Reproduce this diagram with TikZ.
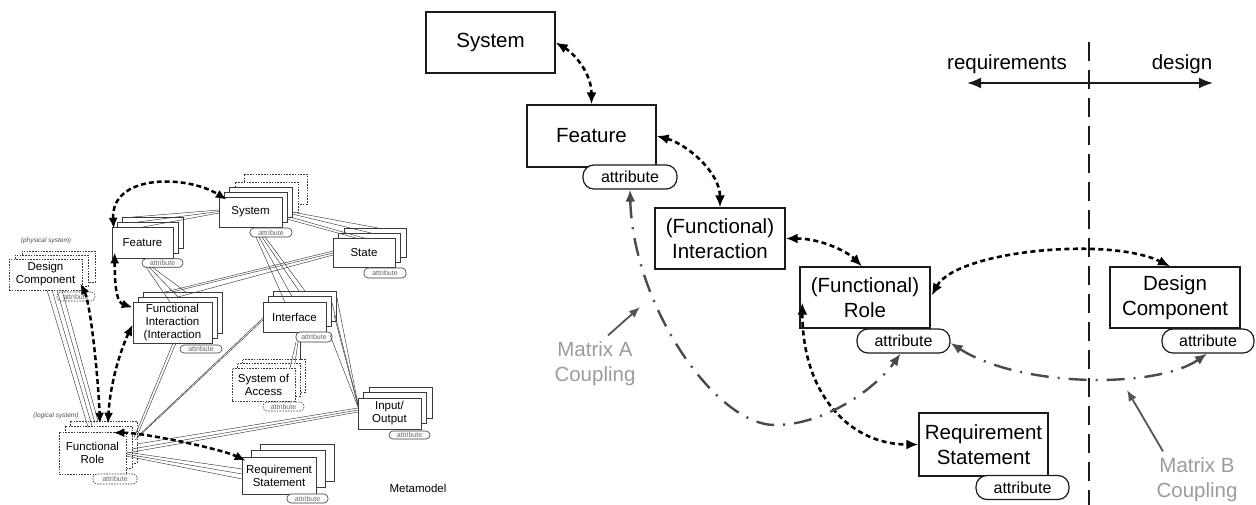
\documentclass[tikz,border=0pt]{standalone}
\usepackage{fontspec}
\setmainfont{Liberation Sans}
\usetikzlibrary{arrows.meta,calc}

\definecolor{ink}{HTML}{1A1A1A}
\definecolor{coup}{HTML}{4A4A4A}
\definecolor{lbl}{HTML}{9C9C9C}
\definecolor{lblarrow}{HTML}{555555}
\definecolor{thinln}{HTML}{3A3A3A}

\tikzset{
  % concept view
  bigbox/.style={draw=ink, fill=white, line width=1.3pt, inner sep=0pt, align=center,
    minimum width=129pt, minimum height=61pt, font=\fontsize{20.5}{25}\selectfont},
  bigattr/.style={draw=ink, fill=white, line width=1.2pt, rounded corners=11pt, inner sep=0pt,
    minimum width=93pt, minimum height=24pt, font=\fontsize{16}{18}\selectfont},
  heavydots/.style={draw=black, line width=2.6pt, dash pattern=on 5pt off 3.5pt,
    {Latex[length=12pt,width=10pt]}-{Latex[length=12pt,width=10pt]}},
  coupling/.style={draw=coup, line width=2.4pt, dash pattern=on 18pt off 9pt on 2pt off 9pt,
    {Latex[length=12pt,width=10pt]}-{Latex[length=12pt,width=10pt]}},
  pointer/.style={draw=lblarrow, line width=1.8pt, -{Latex[length=11pt,width=9pt]}},
  lbltext/.style={text=lbl, align=center, font=\fontsize{20.5}{25}\selectfont},
  divider/.style={draw=ink, line width=2.2pt, dash pattern=on 19pt off 9pt},
  sides/.style={draw=ink, line width=2pt,
    {Latex[length=14pt,width=11pt]}-{Latex[length=14pt,width=11pt]}},
  plain/.style={font=\fontsize{20.5}{25}\selectfont},
  % metamodel
  mbox/.style={draw=thinln, fill=white, line width=0.6pt, inner sep=0pt, align=center,
    font=\fontsize{11.5}{13}\selectfont},
  mdash/.style={dash pattern=on 1.6pt off 1.2pt},
  mattr/.style={draw=thinln, fill=white, line width=0.6pt, rounded corners=4pt, inner sep=0pt,
    text=black!60, font=\fontsize{7}{8}\selectfont},
  mlink/.style={draw=thinln, line width=0.45pt},
  mdots/.style={draw=black, line width=2.5pt, dash pattern=on 5pt off 3pt,
    {Latex[length=11pt,width=9pt]}-{Latex[length=11pt,width=9pt]}},
  mnote/.style={font=\fontsize{6.5}{7}\selectfont\itshape, text=black!70},
}

% stacked metamodel element:
% #1 name, #2 centre x, #3 centre y, #4 width, #5 height,
% #6 back layers dx/dy/style (furthest first), #7 front style, #8 text
\newcommand\mstack[8]{%
  \foreach \dx/\dy/\ls [count=\k] in {#6}
    \node[mbox, \ls, minimum width=#4pt, minimum height=#5pt] (#1-\k) at (#2+\dx, #3-\dy) {};
  \node[mbox, #7, minimum width=#4pt, minimum height=#5pt] (#1) at (#2,#3) {#8};
}

\begin{document}
\begin{tikzpicture}[x=1pt, y=-1pt]
\fill[white] (0,0) rectangle (1256,505);
\useasboundingbox (0,0) rectangle (1256,505);

%% ---------------- metamodel ----------------
\mstack{sysL}{250.5}{212}{63}{30}{25/23/mdash, 16/15/mdash, 10/10/solid, 5/5/solid}{solid}{System}
\mstack{feaL}{142.5}{242.5}{61}{31}{10/10/solid, 5/5/solid}{solid}{Feature}
\mstack{stL}{364}{252.5}{62}{29}{11/10/solid, 5.5/5/solid}{solid}{State}
\mstack{fiL}{172.5}{322.5}{79}{41}{10/10/solid, 5/5/solid}{solid}{Functional\\Interaction\\(Interaction}
\mstack{ifL}{294.5}{317}{63}{30}{10/11/solid, 5/5.5/solid}{solid}{Interface}
\mstack{soaL}{263.5}{384.5}{63}{33}{10/9/mdash, 5/5/mdash}{mdash}{System of\\Access}
\mstack{ioL}{389.5}{413.5}{63}{31}{11/11/solid, 5.5/5.5/solid}{solid}{Input/\\Output}
\mstack{reqL}{279}{475.5}{74}{37}{18/13/solid, 9/7/solid}{solid}{Requirement\\Statement}
\mstack{roleL}{92.5}{453}{67}{42}{11/11/mdash, 6/6/mdash}{mdash}{Functional\\Role}
\mstack{dcL}{45.5}{274.5}{73}{31}{13/8/mdash, 6/4/mdash}{mdash}{Design\\Component}

\node[mattr, minimum width=42pt, minimum height=9pt]  (sysL-a)  at (271,232.5) {attribute};
\node[mattr, minimum width=41pt, minimum height=8.5pt] (feaL-a) at (162.5,263) {attribute};
\node[mattr, minimum width=42pt, minimum height=10pt] (stL-a)   at (385,273) {attribute};
\node[mattr, minimum width=42pt, minimum height=8pt]  (fiL-a)   at (201,349) {attribute};
\node[mattr, minimum width=36pt, minimum height=10pt] (ifL-a)   at (314,337) {attribute};
\node[mattr, mdash, minimum width=41pt, minimum height=9pt] (soaL-a) at (283.5,406.5) {attribute};
\node[mattr, minimum width=41pt, minimum height=8pt]  (ioL-a)   at (409.5,435) {attribute};
\node[mattr, minimum width=41pt, minimum height=9pt]  (reqL-a)  at (307.5,498.5) {attribute};
\node[mattr, mdash, minimum width=44pt, minimum height=10pt] (roleL-a) at (115,479) {attribute};
\node[mattr, mdash, minimum width=38pt, minimum height=9pt]  (dcL-a)   at (76,296.5) {attribute};

\node[mnote] (physnote) at (46,241) {(physical system)};
\node[mnote] (lognote)  at (56,416) {(logical system)};
\node[font=\fontsize{11.5}{13}\selectfont] (meta) at (418,488) {Metamodel};

% association bundles
\draw[mlink] ($(feaL)+(0.5,-15.5)$) -- ($(sysL)+(-31.5,1)$);
\draw[mlink] ($(feaL)+(-4.5,-20.5)$) -- ($(sysL)+(-31.5,-0.5)$);
\draw[mlink] ($(feaL)+(-9.5,-25.5)$) -- ($(sysL)+(-31.5,-2)$);

\draw[mlink] ($(feaL-a)+(-16.5,4)$) -- ($(fiL)+(-2.5,-20.5)$);
\draw[mlink] ($(feaL-a)+(-13.5,4)$) -- ($(fiL)+(5.5,-25.5)$);
\draw[mlink] ($(feaL-a)+(-10.5,4)$) -- ($(fiL)+(13.5,-30.5)$);

\draw[mlink] ($(sysL-a)+(-15,4.5)$) -- ($(ifL)+(-9.5,-15)$);
\draw[mlink] ($(sysL-a)+(-12,4.5)$) -- ($(ifL)+(-2.5,-20.5)$);
\draw[mlink] ($(sysL-a)+(-9,4.5)$) -- ($(ifL)+(4.5,-26)$);
\draw[mlink] ($(sysL-a)+(-6,4.5)$) -- ($(ifL)+(10.5,-26)$);

\draw[mlink] ($(sysL)+(41.5,0)$) -- ($(stL)+(14,-24.5)$);
\draw[mlink] ($(sysL)+(41.5,2)$) -- ($(stL)+(7,-19.5)$);
\draw[mlink] ($(sysL)+(39.5,5)$) -- ($(stL)+(0,-14.5)$);
\draw[mlink] ($(sysL)+(36.5,7)$) -- ($(stL)+(-8,-14.5)$);

\draw[mlink] ($(stL)+(-31,-1.5)$) -- ($(fiL)+(-7.5,-30.5)$);
\draw[mlink] ($(stL)+(-31,0.5)$) -- ($(fiL)+(-0.5,-30.5)$);
\draw[mlink] ($(stL)+(-31,2.5)$) -- ($(fiL)+(5.5,-25.5)$);

\draw[mlink] ($(ifL)+(-31.5,1)$) -- ($(roleL)+(44.5,-16)$);
\draw[mlink] ($(ifL)+(-31.5,3)$) -- ($(roleL)+(42.5,-13)$);

\draw[mlink] ($(ifL)+(41.5,-24)$) -- ($(ioL)+(-31.5,-9.5)$);
\draw[mlink] ($(ifL)+(36.5,-18)$) -- ($(ioL)+(-31.5,-8.5)$);
\draw[mlink] ($(ifL)+(39.5,-2)$) -- ($(ioL)+(-31.5,-7.5)$);
\draw[mlink] ($(ifL)+(35.5,18)$) -- ($(ioL)+(-31.5,-6.5)$);

\draw[mlink] ($(ifL-a)+(-18,5)$) -- ($(soaL)+(26.5,-16.5)$);
\draw[mlink] ($(ifL-a)+(-16,5)$) -- ($(soaL)+(31.5,-21.5)$);
\draw[mlink] ($(ifL-a)+(-14,5)$) -- ($(soaL)+(36.5,-25)$);

\draw[mlink] ($(ioL)+(-31.5,-5.5)$) -- ($(roleL)+(44.5,-9)$);
\draw[mlink] ($(ioL)+(-31.5,-3.5)$) -- ($(roleL)+(39.5,-4)$);
\draw[mlink] ($(ioL)+(-31.5,-1.5)$) -- ($(roleL)+(34.5,0)$);

\draw[mlink] ($(roleL)+(33.5,-1)$) -- ($(reqL)+(-37,-6.5)$);
\draw[mlink] ($(roleL)+(33.5,1)$) -- ($(reqL)+(-37,-1.5)$);
\draw[mlink] ($(roleL)+(33.5,3)$) -- ($(reqL)+(-37,3.5)$);

\draw[mlink] ($(dcL)+(1.5,15.5)$) -- ($(roleL)+(-4.5,-26)$);
\draw[mlink] ($(dcL)+(6.5,15.5)$) -- ($(roleL)+(-0.5,-27)$);
\draw[mlink] ($(dcL)+(11.5,15.5)$) -- ($(roleL)+(2.5,-30)$);
\draw[mlink] ($(dcL)+(16.5,15.5)$) -- ($(roleL)+(5.5,-32)$);

\draw[mlink] ($(fiL)+(0.5,20.5)$) -- ($(roleL)+(41.5,-15)$);
\draw[mlink] ($(fiL)+(3.5,20.5)$) -- ($(roleL)+(44.5,-17)$);

% traceability links of the metamodel
\draw[mdots] ($(feaL.north west)+(2,2)$) .. controls +(-3,-55) and +(-40,-25) .. ($(sysL.north west)+(8,3)$);
\draw[mdots] ($(feaL.south west)+(3,-6)$) .. controls +(0,40) and +(-15,-5) .. ($(fiL.west)+(0,-15)$);
\draw[mdots] ($(fiL.west)+(0,2)$) .. controls +(-12,25) and +(2,-40) .. ($(roleL.north)+(15.5,-8)$);
\draw[mdots] ($(dcL.south east)+(-2,-7)$) .. controls +(10,20) and +(-2,-50) .. ($(roleL.north)+(7.5,-8)$);
\draw[mdots] ($(roleL.north east)+(-13,1)$) .. controls +(30,0) and +(-25,-12) .. ($(reqL.north west)+(4,4)$);

%% ---------------- concept view ----------------
\coordinate (vt) at (1089,42);
\coordinate (vb) at (1089,505);
\draw[divider] (vt) -- (vb);
\coordinate (hl) at (967,83);
\coordinate (hr) at (1213,83);
\draw[sides] (hl) -- (hr);
\node[plain, anchor=base] (rqlbl) at (1007,70) {requirements};
\node[plain, anchor=base] (dglbl) at (1182,70) {design};

\node[bigbox] (sys) at (490.5,42.5) {System};
\node[bigbox, minimum height=62pt] (fea) at (591.5,136) {Feature};
\node[bigbox, minimum width=130pt] (int) at (720,238.5) {(Functional)\\Interaction};
\node[bigbox, minimum width=130pt] (role) at (865,297.5) {(Functional)\\Role};
\node[bigbox, minimum width=130pt] (dc) at (1175,297.5) {Design\\Component};
\node[bigbox, minimum height=63pt] (req) at (983.5,444.5) {Requirement\\Statement};

\node[bigattr, minimum width=94pt] (fatt) at (630,177) {attribute};
\node[bigattr] (ratt) at (903.5,341) {attribute};
\node[bigattr, minimum width=92pt] (datt) at (1208,341) {attribute};
\node[bigattr] (qatt) at (1022.5,487.5) {attribute};

\draw[heavydots] (sys.east) .. controls +(20,12) and +(0,-30) .. (fea.north);
\draw[heavydots] (fea.east) .. controls +(30,8) and +(0,-35) .. (int.north);
\draw[heavydots] (int.east) .. controls +(35,0) and +(-15,-15) .. ($(role.north)+(-3,0)$);
\draw[heavydots] ($(role.east)+(1,-2)$) .. controls +(25,-45) and +(-60,-30) .. ($(dc.north)+(-5,0)$);
\draw[heavydots] ($(role.south west)+(3,-26)$) .. controls +(0,90) and +(-70,0) .. (req.west);

\coordinate (cA) at (775,425);
\draw[coupling] (fatt.south) .. controls +(3,115) and +(-60,0) .. (cA)
  .. controls +(50,0) and +(-25,35) .. ($(ratt.south)+(-3,0)$);
\draw[coupling] ($(ratt.east)+(0,2)$) .. controls +(70,45) and +(-50,35) .. ($(datt.south)+(-1,0)$);

\node[lbltext] (mal) at (595,364) {Matrix A\\Coupling};
\node[lbltext] (mbl) at (1197,480) {Matrix B\\Coupling};
\coordinate (pA) at (640,307);
\coordinate (pB) at (1127,390);
\draw[pointer] ($(mal.north)+(13,-3)$) -- (pA);
\draw[pointer] ($(mbl.north)+(-34,-3)$) -- (pB);
\end{tikzpicture}
\end{document}
